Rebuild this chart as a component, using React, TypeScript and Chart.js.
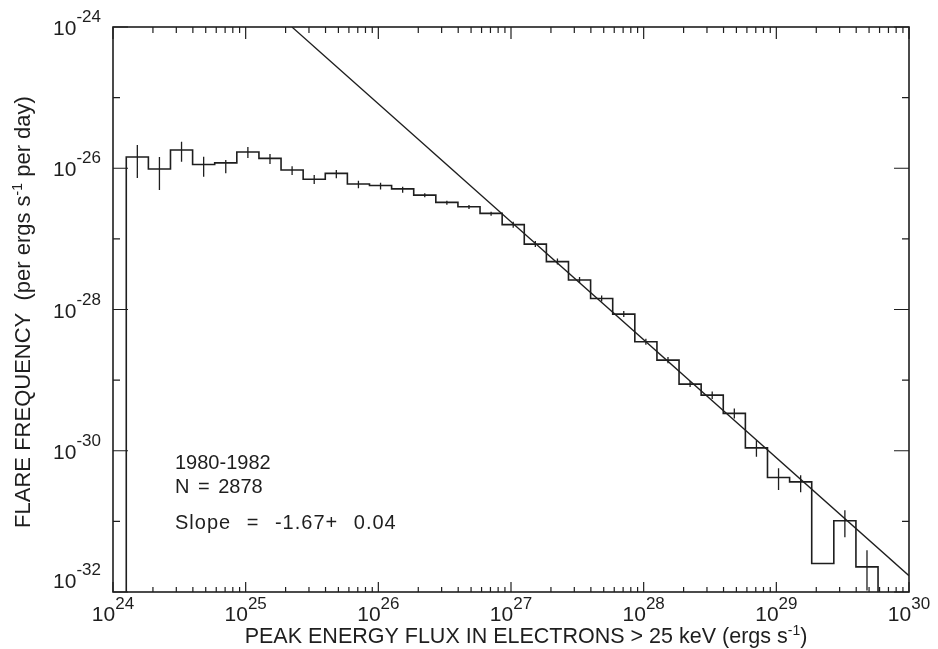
import React, { useEffect, useRef } from 'react';
import { Chart, registerables } from 'chart.js';

Chart.register(...registerables);

// ---------- data ----------
// histogram bin edges (1/6 decade bins)
const BIN_EDGES = [
  1.259e24, 1.848e24, 2.712e24, 3.981e24, 5.843e24, 8.577e24,
  1.259e25, 1.848e25, 2.712e25, 3.981e25, 5.843e25, 8.577e25,
  1.259e26, 1.848e26, 2.712e26, 3.981e26, 5.843e26, 8.577e26,
  1.259e27, 1.848e27, 2.712e27, 3.981e27, 5.843e27, 8.577e27,
  1.259e28, 1.848e28, 2.712e28, 3.981e28, 5.843e28, 8.577e28,
  1.259e29, 1.848e29, 2.712e29, 3.981e29, 5.843e29, 8.577e29,
];

// flare frequency per bin (0 = empty bin)
const FREQUENCY = [
  1.44e-26, 9.74e-27, 1.81e-26, 1.13e-26, 1.19e-26, 1.70e-26,
  1.38e-26, 9.43e-27, 6.97e-27, 8.47e-27, 5.97e-27, 5.69e-27,
  5.11e-27, 4.17e-27, 3.29e-27, 2.85e-27, 2.30e-27, 1.59e-27,
  8.44e-28, 4.77e-28, 2.61e-28, 1.43e-28, 8.60e-29, 3.49e-29,
  1.92e-29, 8.78e-30, 6.13e-30, 3.38e-30, 1.10e-30, 4.19e-31,
  3.63e-31, 2.53e-32, 1.02e-31, 2.27e-32, 0,
];

// error bar upper / lower values per bin
const ERR_HIGH = [
  2.13e-26, 1.44e-26, 2.37e-26, 1.46e-26, 1.31e-26, 2.00e-26,
  1.59e-26, 1.07e-26, 8.01e-27, 9.43e-27, 6.65e-27, 6.23e-27,
  5.47e-27, 4.41e-27, 3.47e-27, 3.01e-27, 2.42e-27, 1.75e-27,
  9.30e-28, 5.26e-28, 2.88e-28, 1.58e-28, 9.50e-29, 3.85e-29,
  2.12e-29, 9.70e-30, 6.90e-30, 3.97e-30, 1.41e-30, 5.67e-31,
  4.51e-31, 2.53e-32, 1.44e-31, 3.91e-32, 0,
];
const ERR_LOW = [
  7.26e-27, 4.91e-27, 1.24e-26, 7.58e-27, 8.47e-27, 1.40e-26,
  1.15e-26, 8.01e-27, 5.97e-27, 7.19e-27, 5.19e-27, 5.02e-27,
  4.50e-27, 3.87e-27, 3.04e-27, 2.64e-27, 2.12e-27, 1.44e-27,
  7.65e-28, 4.32e-28, 2.37e-28, 1.30e-28, 7.80e-29, 3.16e-29,
  1.74e-29, 7.96e-30, 5.40e-30, 2.87e-30, 8.20e-31, 2.77e-31,
  2.59e-31, 2.53e-32, 5.97e-32, 1.05e-32, 0,
];

// power-law fit (slope -1.67) end points
const FIT_X = [2.234e25, 1e30];
const FIT_Y = [1e-24, 1.70e-32];

// axes
const X_MIN = 1e24;
const X_MAX = 1e30;
const Y_MIN = 1e-32;
const Y_MAX = 1e-24;
const X_DECADES = [24, 25, 26, 27, 28, 29, 30];
const X_MINOR_MULT = [2, 3, 4, 5, 6, 7, 8, 9];
const Y_DECADES = [-32, -31, -30, -29, -28, -27, -26, -25, -24];
const Y_LABELED = [-32, -30, -28, -26, -24];

const X_TITLE = 'PEAK ENERGY FLUX IN ELECTRONS > 25 keV (ergs s';
const Y_TITLE = 'FLARE FREQUENCY  (per ergs s';
const Y_TITLE_END = ' per day)';
const NOTES = ['1980-1982', 'N = 2878', 'Slope = -1.67+ 0.04'];

const INK = '#1e1e1e';
const FONT = '"Liberation Sans", Arial, Helvetica, sans-serif';
const FLOOR = 1e-34;

type Seg = { t: string; sup?: boolean };

function drawRich(ctx: CanvasRenderingContext2D, segs: Seg[], x: number, y: number, size: number, supSize: number, rise: number, align: 'center' | 'right' | 'left') {
  const widths = segs.map((s) => {
    ctx.font = `${s.sup ? supSize : size}px ${FONT}`;
    return ctx.measureText(s.t).width;
  });
  const total = widths.reduce((a, b) => a + b, 0);
  let left = align === 'center' ? x - total / 2 : align === 'right' ? x - total : x;
  ctx.textAlign = 'left';
  ctx.textBaseline = 'alphabetic';
  segs.forEach((s, i) => {
    ctx.font = `${s.sup ? supSize : size}px ${FONT}`;
    ctx.fillText(s.t, left, s.sup ? y - rise : y);
    left += widths[i];
  });
}

const decorPlugin = {
  id: 'decor',
  beforeDraw(chart: any) {
    const { ctx } = chart;
    ctx.save();
    ctx.fillStyle = '#ffffff';
    ctx.fillRect(0, 0, chart.width, chart.height);
    ctx.restore();
  },
  afterDraw(chart: any) {
    const { ctx, chartArea: a, scales } = chart;
    const xs = scales.x;
    const ys = scales.y;
    ctx.save();
    ctx.strokeStyle = INK;
    ctx.fillStyle = INK;
    ctx.lineWidth = 1.6;
    ctx.strokeRect(a.left, a.top, a.right - a.left, a.bottom - a.top);

    ctx.lineWidth = 1.2;
    ctx.beginPath();
    X_DECADES.forEach((d) => {
      const px = xs.getPixelForValue(Math.pow(10, d));
      ctx.moveTo(px, a.top);
      ctx.lineTo(px, a.top + 12);
      ctx.moveTo(px, a.bottom);
      ctx.lineTo(px, a.bottom - 10);
      if (d < 30) {
        X_MINOR_MULT.forEach((m) => {
          const qx = xs.getPixelForValue(m * Math.pow(10, d));
          ctx.moveTo(qx, a.top);
          ctx.lineTo(qx, a.top + 6);
          ctx.moveTo(qx, a.bottom);
          ctx.lineTo(qx, a.bottom - 5);
        });
      }
    });
    Y_DECADES.forEach((d) => {
      const py = ys.getPixelForValue(Math.pow(10, d));
      const len = Y_LABELED.includes(d) ? 15 : 7;
      ctx.moveTo(a.left, py);
      ctx.lineTo(a.left + len, py);
      ctx.moveTo(a.right, py);
      ctx.lineTo(a.right - len, py);
    });
    ctx.stroke();

    // x tick labels
    X_DECADES.forEach((d) => {
      const px = xs.getPixelForValue(Math.pow(10, d));
      drawRich(ctx, [{ t: '10' }, { t: String(d), sup: true }], px, a.bottom + 29, 21, 17, 12, 'center');
    });
    // y tick labels
    Y_LABELED.forEach((d) => {
      const py = ys.getPixelForValue(Math.pow(10, d));
      const base = d === -32 ? py - 4 : py + 8;
      drawRich(ctx, [{ t: '10' }, { t: String(d), sup: true }], a.left - 12, base, 21, 17, 13, 'right');
    });

    // x title
    drawRich(ctx, [{ t: X_TITLE }, { t: '-1', sup: true }, { t: ')' }], 526, 643, 21.5, 14, 8, 'center');

    // y title (rotated)
    ctx.save();
    ctx.translate(30, 312);
    ctx.rotate(-Math.PI / 2);
    drawRich(ctx, [{ t: Y_TITLE }, { t: '-1', sup: true }, { t: Y_TITLE_END }], 0, 0, 22, 14, 8, 'center');
    ctx.restore();

    // notes
    ctx.font = `20px ${FONT}`;
    ctx.textAlign = 'left';
    ctx.textBaseline = 'alphabetic';
    (ctx as any).wordSpacing = '3px';
    ctx.fillText(NOTES[0], 175, 469);
    ctx.fillText(NOTES[1], 175, 493);
    (ctx as any).wordSpacing = '9px';
    (ctx as any).letterSpacing = '1px';
    ctx.fillText(NOTES[2], 175, 529);
    ctx.restore();
  },
};

export default function App() {
  const ref = useRef<HTMLCanvasElement>(null);

  useEffect(() => {
    const canvas = ref.current;
    if (!canvas) return;

    const histPts: { x: number; y: number }[] = [{ x: BIN_EDGES[0], y: FLOOR }];
    FREQUENCY.forEach((v, i) => {
      const y = v > 0 ? v : FLOOR;
      histPts.push({ x: BIN_EDGES[i], y });
      histPts.push({ x: BIN_EDGES[i + 1], y });
    });

    const errPts: { x: number; y: number | null }[] = [];
    FREQUENCY.forEach((v, i) => {
      if (v <= 0 || ERR_HIGH[i] === ERR_LOW[i]) return;
      const cx = Math.sqrt(BIN_EDGES[i] * BIN_EDGES[i + 1]);
      errPts.push({ x: cx, y: ERR_LOW[i] });
      errPts.push({ x: cx, y: ERR_HIGH[i] });
      errPts.push({ x: cx, y: null });
    });

    const fitPts = FIT_X.map((x, i) => ({ x, y: FIT_Y[i] }));

    const chart = new Chart(canvas, {
      type: 'scatter',
      data: {
        datasets: [
          {
            label: 'histogram',
            data: histPts,
            showLine: true,
            borderColor: INK,
            borderWidth: 1.6,
            pointRadius: 0,
            tension: 0,
          },
          {
            label: 'errors',
            data: errPts as any,
            showLine: true,
            spanGaps: false,
            borderColor: INK,
            borderWidth: 1.3,
            pointRadius: 0,
          },
          {
            label: 'fit',
            data: fitPts,
            showLine: true,
            borderColor: INK,
            borderWidth: 1.3,
            pointRadius: 0,
          },
        ],
      },
      options: {
        animation: false,
        responsive: false,
        maintainAspectRatio: false,
        layout: { padding: { left: 113, top: 27, right: 29, bottom: 57 } },
        plugins: {
          legend: { display: false },
          tooltip: { enabled: false },
          title: { display: false },
        },
        events: [],
        scales: {
          x: { type: 'logarithmic', min: X_MIN, max: X_MAX, display: false },
          y: { type: 'logarithmic', min: Y_MIN, max: Y_MAX, display: false },
        },
      },
      plugins: [decorPlugin],
    });

    return () => chart.destroy();
  }, []);

  return (
    <div style={{ position: 'absolute', left: 0, top: 0, width: 938, height: 649, background: '#fff' }}>
      <canvas ref={ref} width={938} height={649} style={{ display: 'block', width: 938, height: 649 }} />
    </div>
  );
}
